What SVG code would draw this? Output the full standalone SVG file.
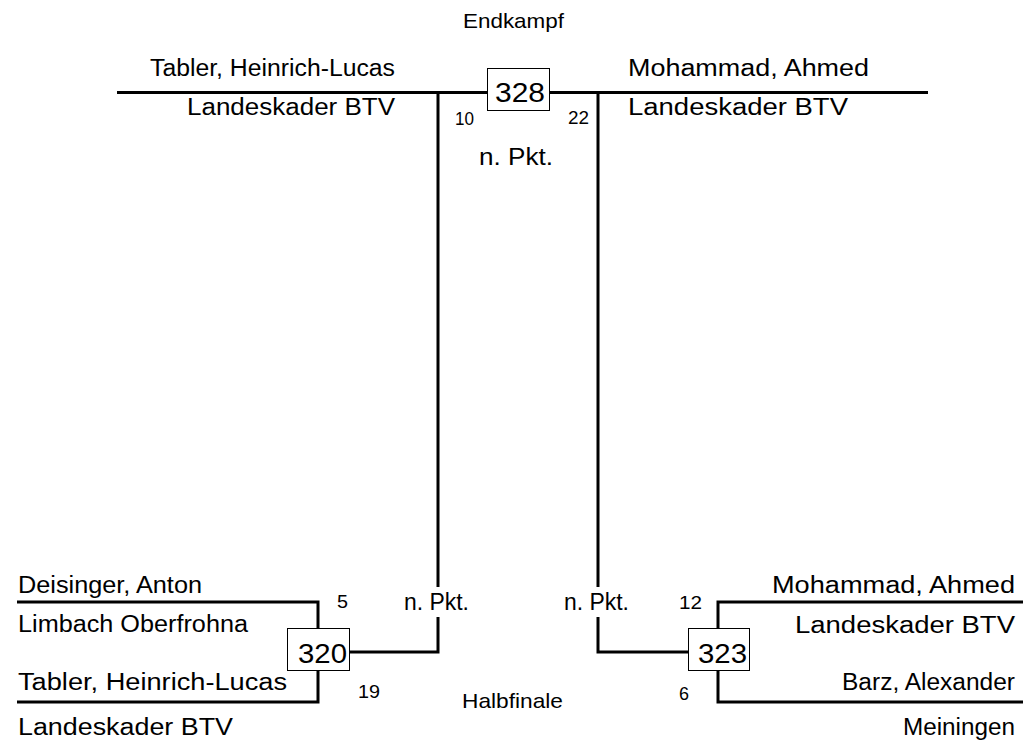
<svg xmlns="http://www.w3.org/2000/svg" width="1023" height="741" viewBox="0 0 1023 741">
<style>
text{font-family:"Liberation Sans",Arial,sans-serif;fill:#000}
.name{font-size:23px}
.num{font-size:18px}
.box{font-size:28px}
.lbl{font-size:21px}
.pkt{font-size:23px}
.ln{stroke:#000;stroke-width:3;fill:none}
.bx{fill:#fff;stroke:#000;stroke-width:1}
</style>
<rect width="1023" height="741" fill="#fff"/>
<g id="connectors">
<polyline class="ln" points="117,92.5 487,92.5"/>
<polyline class="ln" points="549,92.5 928,92.5"/>
<polyline class="ln" points="438,92.5 438,587"/>
<polyline class="ln" points="598,92.5 598,587"/>
<polyline class="ln" points="438,617 438,652 349,652"/>
<polyline class="ln" points="598,617 598,652 688,652"/>
<polyline class="ln" points="17,602 318,602 318,628"/>
<polyline class="ln" points="318,671 318,702 17,702"/>
<polyline class="ln" points="1023,602 718,602 718,628"/>
<polyline class="ln" points="718,671 718,702 1023,702"/>
</g>
<g id="title-final"><text class="lbl" x="463" y="28" textLength="101" lengthAdjust="spacingAndGlyphs">Endkampf</text></g>
<g id="title-semi"><text class="lbl" x="462" y="708" textLength="101" lengthAdjust="spacingAndGlyphs">Halbfinale</text></g>
<g id="match-328">
<rect class="bx" x="487.5" y="68.5" width="62" height="42"/>
<text class="box" x="495" y="102" textLength="50" lengthAdjust="spacingAndGlyphs">328</text>
<text class="num" x="455" y="125" textLength="19" lengthAdjust="spacingAndGlyphs">10</text>
<text class="num" x="568" y="124" textLength="21" lengthAdjust="spacingAndGlyphs">22</text>
<text class="pkt" x="479" y="165" textLength="74" lengthAdjust="spacingAndGlyphs">n. Pkt.</text>
</g>
<g id="final-left">
<text class="name" x="150" y="76" textLength="245" lengthAdjust="spacingAndGlyphs">Tabler, Heinrich-Lucas</text>
<text class="name" x="187" y="115" textLength="208" lengthAdjust="spacingAndGlyphs">Landeskader BTV</text>
</g>
<g id="final-right">
<text class="name" x="628" y="76" textLength="241" lengthAdjust="spacingAndGlyphs">Mohammad, Ahmed</text>
<text class="name" x="628" y="115" textLength="220" lengthAdjust="spacingAndGlyphs">Landeskader BTV</text>
</g>
<g id="match-320">
<rect class="bx" x="287.5" y="628.5" width="62" height="42"/>
<text class="box" x="298" y="663" textLength="49" lengthAdjust="spacingAndGlyphs">320</text>
<text class="num" x="337" y="608" textLength="11" lengthAdjust="spacingAndGlyphs">5</text>
<text class="num" x="358" y="698" textLength="22" lengthAdjust="spacingAndGlyphs">19</text>
<text class="pkt" x="404" y="610" textLength="65" lengthAdjust="spacingAndGlyphs">n. Pkt.</text>
</g>
<g id="semi-left-1">
<text class="name" x="18" y="593" textLength="184" lengthAdjust="spacingAndGlyphs">Deisinger, Anton</text>
<text class="name" x="18" y="632" textLength="230" lengthAdjust="spacingAndGlyphs">Limbach Oberfrohna</text>
</g>
<g id="semi-left-2">
<text class="name" x="18" y="690" textLength="269" lengthAdjust="spacingAndGlyphs">Tabler, Heinrich-Lucas</text>
<text class="name" x="18" y="735" textLength="215" lengthAdjust="spacingAndGlyphs">Landeskader BTV</text>
</g>
<g id="match-323">
<rect class="bx" x="688.5" y="628.5" width="61" height="42"/>
<text class="box" x="698" y="663" textLength="49" lengthAdjust="spacingAndGlyphs">323</text>
<text class="num" x="679" y="609" textLength="23" lengthAdjust="spacingAndGlyphs">12</text>
<text class="num" x="679" y="700" textLength="10" lengthAdjust="spacingAndGlyphs">6</text>
<text class="pkt" x="564" y="610" textLength="65" lengthAdjust="spacingAndGlyphs">n. Pkt.</text>
</g>
<g id="semi-right-1">
<text class="name" x="772" y="593" textLength="243" lengthAdjust="spacingAndGlyphs">Mohammad, Ahmed</text>
<text class="name" x="795" y="633" textLength="220" lengthAdjust="spacingAndGlyphs">Landeskader BTV</text>
</g>
<g id="semi-right-2">
<text class="name" x="842" y="690" textLength="173" lengthAdjust="spacingAndGlyphs">Barz, Alexander</text>
<text class="name" x="903" y="735" textLength="112" lengthAdjust="spacingAndGlyphs">Meiningen</text>
</g>
</svg>
